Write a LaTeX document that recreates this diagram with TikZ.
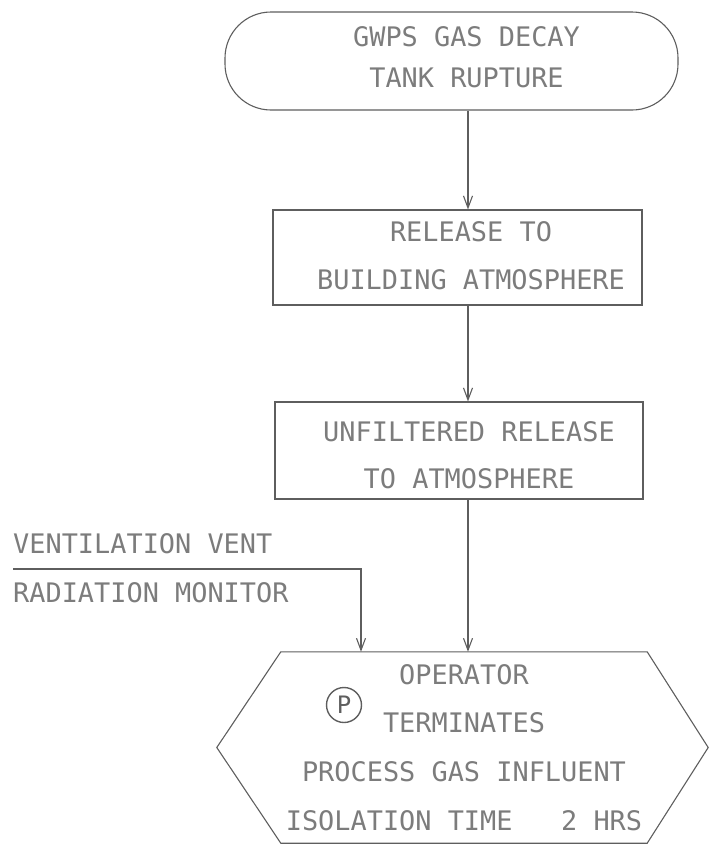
\documentclass[tikz,border=0pt]{standalone}
\usepackage{fontspec}
\setmonofont{DejaVu Sans Mono}
\usetikzlibrary{arrows.meta,positioning}
\definecolor{inkGray}{HTML}{5E5E5E}
\definecolor{typeGray}{HTML}{7C7C7C}

\begin{document}
\begin{tikzpicture}[x=1pt,y=-1pt,
  every node/.style={font=\ttfamily\fontsize{26.9}{48}\selectfont,text=typeGray},
  flow/.style={draw=inkGray,line width=1.1pt,-{Straight Barb[length=12pt,width=9pt]}},
  outline/.style={draw=inkGray,line width=1.1pt},
  terminal/.style={outline,rounded corners=46pt,minimum width=453pt,minimum height=98pt},
  stepbox/.style={outline,minimum width=368pt,minimum height=95pt},
  tag/.style={anchor=west,inner sep=0pt}]
  \useasboundingbox (0,0) rectangle (709,846);

  % event chain
  \node[terminal] (gwps) at (451.5,61) {};
  \node[align=center,font=\ttfamily\fontsize{26.9}{41.5}\selectfont] (gwpstxt) at (466.5,57) {GWPS GAS DECAY\\TANK RUPTURE};
  \node[stepbox,minimum width=369pt] (bldg) at (457.5,257.5) {};
  \node[align=center] (bldgtxt) at (471,256) {RELEASE TO\\BUILDING ATMOSPHERE};
  \node[stepbox,minimum height=97pt] (unf) at (459,450.5) {};
  \node[align=center,font=\ttfamily\fontsize{26.9}{47}\selectfont] (unftxt) at (469,455.5) {UNFILTERED RELEASE\\TO ATMOSPHERE};

  % operator action
  \node[minimum width=366pt,minimum height=191pt,align=center,font=\ttfamily\fontsize{26.9}{48.7}\selectfont] (oper) at (464,747.5)
    {OPERATOR\\TERMINATES\\PROCESS GAS INFLUENT\\ISOLATION TIME\ \ \ 2 HRS};
  \draw[outline] (oper.north west) -- ([xshift=-64pt]oper.west) -- (oper.south west)
    -- (oper.south east) -- ([xshift=61pt]oper.east) -- (oper.north east) -- cycle;
  \node[outline,circle,line width=1.4pt,minimum size=35pt,inner sep=0pt,text=inkGray,font=\ttfamily\fontsize{24}{24}\selectfont] (pmark) at (344,705) {P};

  % monitor signal
  \node[tag] (vent) at (13,544) {VENTILATION VENT};
  \node[tag] (radmon) at (13,593) {RADIATION MONITOR};
  \coordinate (sensor) at (13,569);

  \coordinate (col) at (468,0);
  \draw[flow] (gwps.south -| col) -- (bldg.north -| col);
  \draw[flow] (bldg.south -| col) -- (unf.north -| col);
  \draw[flow] (unf.south -| col) -- (oper.north -| col);
  \draw[flow] (sensor) -| ([xshift=-103pt]oper.north);
\end{tikzpicture}
\end{document}
